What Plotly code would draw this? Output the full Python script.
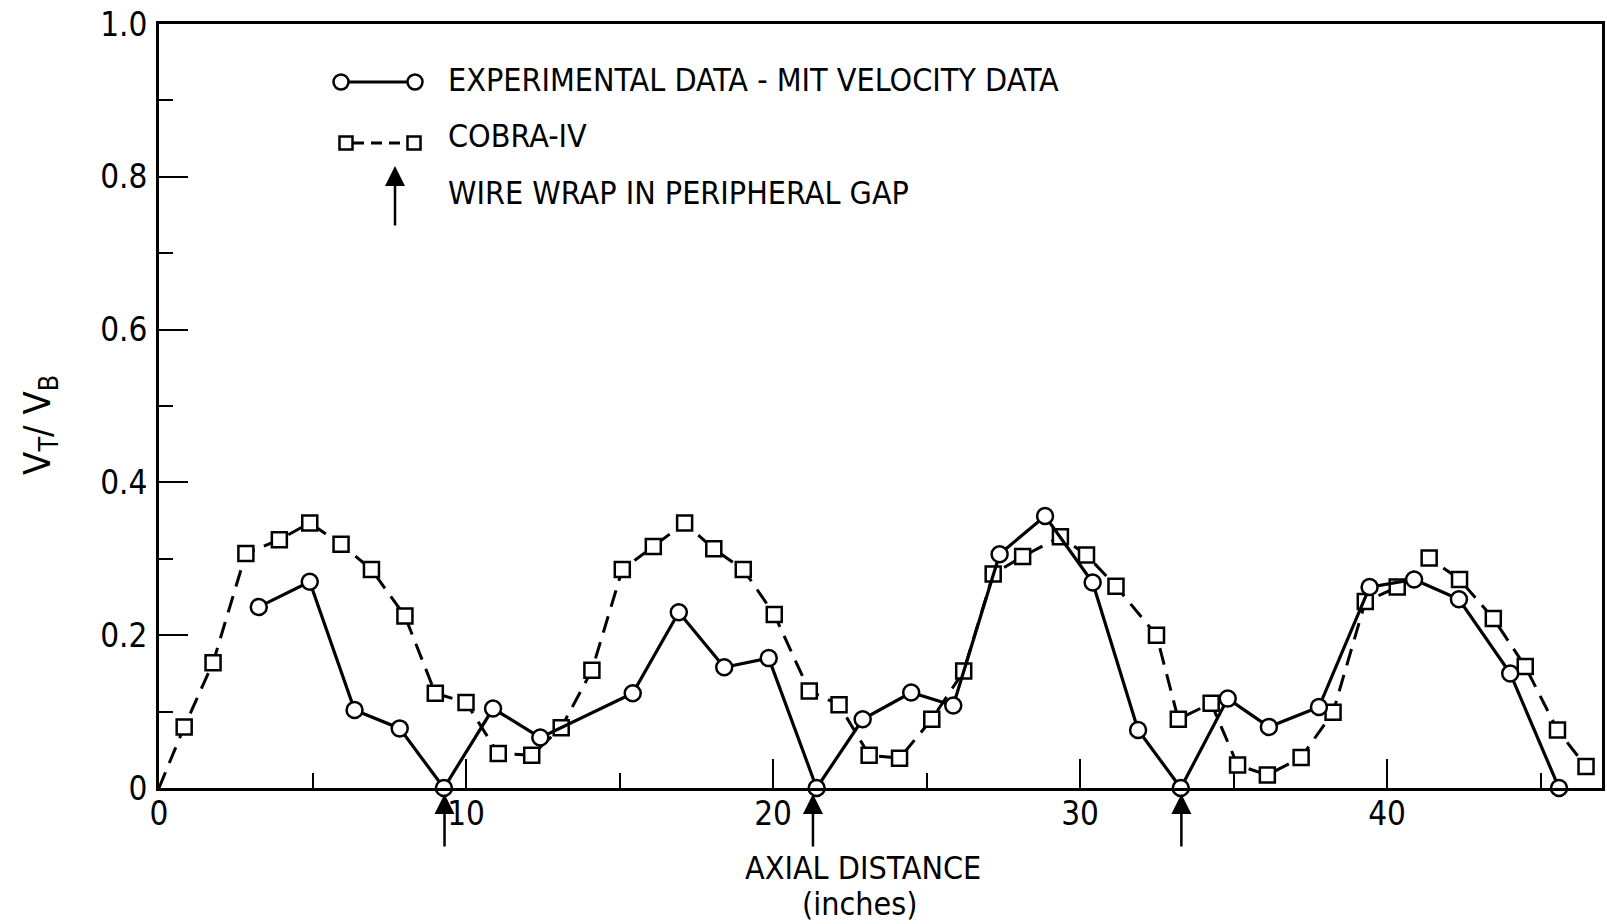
import plotly.graph_objects as go

# ---- data ----
exp_x = [3.25, 4.91, 6.37, 7.84, 9.28, 10.88, 12.42, 15.43, 16.93, 18.41, 19.86,
         21.42, 22.92, 24.5, 25.87, 27.38, 28.86, 30.41, 31.89, 33.28, 34.81,
         36.15, 37.78, 39.43, 40.88, 42.34, 44.01, 45.6]
exp_y = [0.237, 0.270, 0.102, 0.078, 0.0, 0.104, 0.066, 0.124, 0.230, 0.158, 0.170,
         0.0, 0.090, 0.125, 0.108, 0.306, 0.356, 0.269, 0.076, 0.0, 0.117,
         0.080, 0.106, 0.263, 0.273, 0.247, 0.150, 0.0]

cobra_x = [0.0, 0.82, 1.76, 2.83, 3.92, 4.91, 5.93, 6.92, 8.01, 9.0, 10.0, 11.05,
           12.14, 13.1, 14.1, 15.09, 16.1, 17.12, 18.07, 19.03, 20.04, 21.18, 22.15,
           23.13, 24.12, 25.17, 26.21, 27.17, 28.13, 29.36, 30.21, 31.17, 32.49,
           33.2, 34.27, 35.13, 36.1, 37.2, 38.24, 39.29, 40.33, 41.37, 42.36,
           43.46, 44.5, 45.55, 46.48]
cobra_y = [0.0, 0.080, 0.164, 0.307, 0.325, 0.347, 0.319, 0.286, 0.225, 0.124, 0.112,
           0.045, 0.043, 0.079, 0.154, 0.286, 0.316, 0.347, 0.313, 0.286, 0.227,
           0.127, 0.109, 0.043, 0.039, 0.090, 0.153, 0.280, 0.303, 0.329, 0.305,
           0.264, 0.200, 0.090, 0.111, 0.030, 0.017, 0.040, 0.099, 0.244, 0.263,
           0.301, 0.273, 0.222, 0.159, 0.076, 0.028]

wire_wrap_x = [9.3, 21.3, 33.3]

x_tick_vals = [0, 10, 20, 30, 40]
x_tick_text = ["0", "10", "20", "30", "40"]
x_minor_vals = [5, 15, 25, 35, 45]
y_tick_vals = [0, 0.2, 0.4, 0.6, 0.8, 1.0]
y_tick_text = ["0", "0.2", "0.4", "0.6", "0.8", "1.0"]
y_minor_vals = [0.1, 0.3, 0.5, 0.7, 0.9]

legend_exp = "EXPERIMENTAL DATA - MIT VELOCITY DATA"
legend_cobra = "COBRA-IV"
legend_wire = "WIRE WRAP IN PERIPHERAL GAP"
x_title = "AXIAL DISTANCE"
x_units = "(inches)"
y_title = "V<sub>T</sub>/ V<sub>B</sub>"

FONT = "Liberation Sans Narrow, DejaVu Sans Condensed, Arial Narrow, sans-serif"
W, H = 1607, 924
ML, MT = 159, 24
PW, PH = 1443, 764
MR, MB = W - ML - PW, H - MT - PH


def px_x(p):
    """page pixel x -> paper fraction"""
    return (p - ML) / PW


def px_y(p):
    """page pixel y -> paper fraction"""
    return (MT + PH - p) / PH


fig = go.Figure()

fig.add_trace(go.Scatter(
    x=cobra_x, y=cobra_y, mode="lines+markers", name=legend_cobra,
    line=dict(color="black", width=3, dash="17px,10px"),
    marker=dict(symbol="square", size=15, color="white",
                opacity=[0] + [1] * (len(cobra_x) - 1),
                line=dict(color="black", width=2.5)),
    cliponaxis=False, showlegend=False))

fig.add_trace(go.Scatter(
    x=exp_x, y=exp_y, mode="lines+markers", name=legend_exp,
    line=dict(color="black", width=3.2),
    marker=dict(symbol="circle", size=16, color="white",
                line=dict(color="black", width=2.5)),
    cliponaxis=False, showlegend=False))

axis_common = dict(
    showline=True, linecolor="black", linewidth=3, mirror=True,
    showgrid=False, zeroline=False, automargin=False,
    ticks="inside", ticklen=29, tickwidth=2, tickcolor="black",
    tickfont=dict(family=FONT, size=33, color="black"),
    ticklabeloverflow="allow",
)

fig.update_xaxes(range=[0, 47], tickmode="array", tickvals=x_tick_vals,
                 ticktext=x_tick_text, ticklabelstandoff=-6,
                 minor=dict(tickmode="array", tickvals=x_minor_vals, ticks="inside",
                            ticklen=15, tickwidth=2, tickcolor="black"),
                 **axis_common)
fig.update_yaxes(range=[0, 1.0], tickmode="array", tickvals=y_tick_vals,
                 ticktext=y_tick_text, ticklabelstandoff=2,
                 minor=dict(tickmode="array", tickvals=y_minor_vals, ticks="inside",
                            ticklen=14, tickwidth=2, tickcolor="black"),
                 **axis_common)

annotations = []
for xw in wire_wrap_x:
    annotations.append(dict(
        x=xw, y=0, xref="x", yref="y", text="", showarrow=True,
        ax=0, ay=60, axref="pixel", ayref="pixel", standoff=6,
        arrowhead=2, arrowsize=1.6, arrowwidth=2.5, arrowcolor="black"))

# legend texts
tfont = dict(family=FONT, size=32, color="black")
annotations += [
    dict(x=px_x(446), y=px_y(80), xref="paper", yref="paper", text=legend_exp,
         showarrow=False, xanchor="left", yanchor="middle", font=tfont),
    dict(x=px_x(446), y=px_y(136), xref="paper", yref="paper", text=legend_cobra,
         showarrow=False, xanchor="left", yanchor="middle", font=tfont),
    dict(x=px_x(446), y=px_y(193), xref="paper", yref="paper", text=legend_wire,
         showarrow=False, xanchor="left", yanchor="middle", font=tfont),
    # legend arrow
    dict(x=px_x(395), y=px_y(166), xref="paper", yref="paper", text="",
         showarrow=True, ax=0, ay=61, axref="pixel", ayref="pixel",
         arrowhead=2, arrowsize=1.6, arrowwidth=2.5, arrowcolor="black"),
    # axis titles
    dict(x=px_x(863), y=px_y(868), xref="paper", yref="paper", text=x_title,
         showarrow=False, xanchor="center", yanchor="middle", font=tfont,
         height=34),
    dict(x=px_x(860), y=px_y(904), xref="paper", yref="paper", text=x_units,
         showarrow=False, xanchor="center", yanchor="middle", font=tfont,
         height=34),
    dict(x=px_x(40), y=px_y(425), xref="paper", yref="paper", text=y_title,
         showarrow=False, xanchor="center", yanchor="middle", textangle=-90,
         font=dict(family=FONT, size=38, color="black")),
]

# legend key samples
shapes = []


def key_line(x0, x1, yc, dash):
    return dict(type="line", xref="paper", yref="paper",
                xsizemode="pixel", ysizemode="pixel",
                xanchor=px_x(0), yanchor=px_y(yc),
                x0=x0, x1=x1, y0=0, y1=0,
                line=dict(color="black", width=3, dash=dash))


def key_marker(xc, yc, kind, r):
    return dict(type=kind, xref="paper", yref="paper",
                xsizemode="pixel", ysizemode="pixel",
                xanchor=px_x(xc), yanchor=px_y(yc),
                x0=-r, x1=r, y0=-r, y1=r,
                fillcolor="white", line=dict(color="black", width=2.5))


shapes.append(key_line(349, 407, 82, "solid"))
shapes.append(key_marker(341, 82, "circle", 7.5))
shapes.append(key_marker(415, 82, "circle", 7.5))
shapes.append(key_line(353, 408, 143, "11px,7px"))
shapes.append(key_marker(346, 143, "rect", 6.5))
shapes.append(key_marker(414, 143, "rect", 6.5))

fig.update_layout(
    width=W, height=H, margin=dict(l=ML, r=MR, t=MT, b=MB),
    paper_bgcolor="white", plot_bgcolor="white",
    font=dict(family=FONT, color="black"),
    annotations=annotations, shapes=shapes, showlegend=False,
)

# remove the browser's default 8px body margin so the figure fills the window
fig.write_html("out.html",
               config={"displayModeBar": False},
               post_script="document.body.style.margin='0';"
                           "document.body.style.overflow='hidden';")
